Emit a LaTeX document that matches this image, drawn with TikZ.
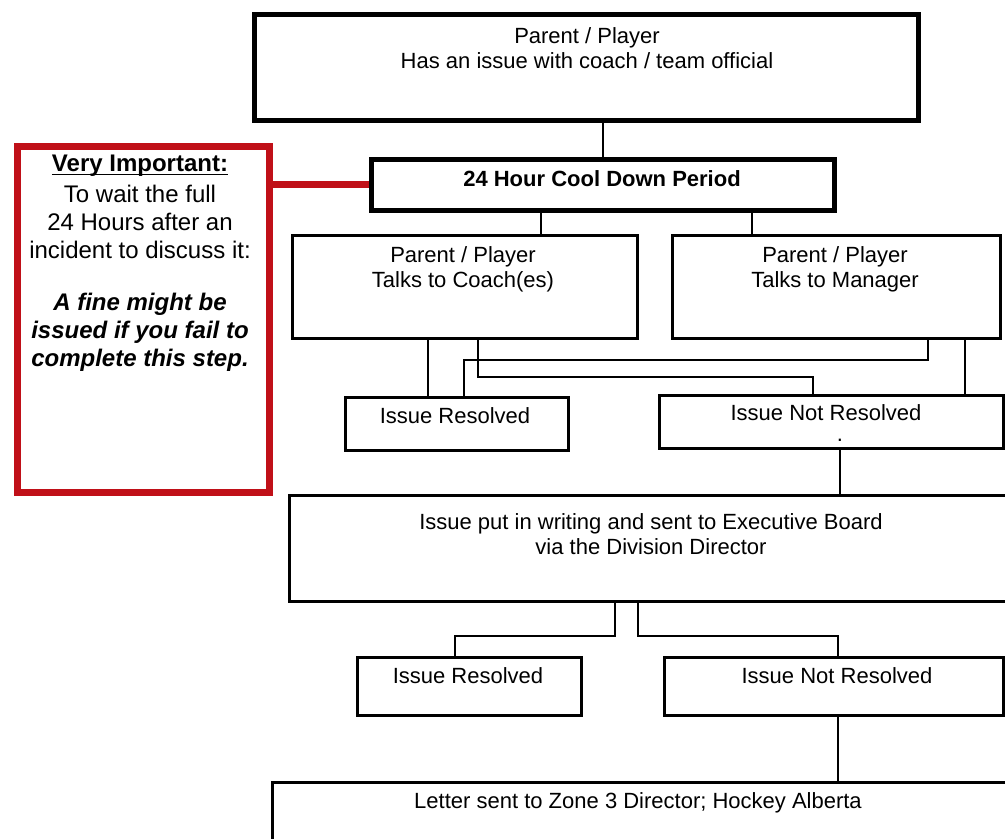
\documentclass[tikz,border=0pt]{standalone}
\usepackage{fontspec}
\setmainfont{Liberation Sans}
\definecolor{boxred}{RGB}{192,16,24}
\tikzset{
	heavybox/.style={draw, line width=2.5pt, inner sep=0pt, anchor=north west},
	flowbox/.style={draw, line width=1.6pt, inner sep=0pt, anchor=north west},
	notebox/.style={draw=boxred, fill=white, line width=3.5pt, inner sep=0pt, anchor=north west},
	txt/.style={font=\fontsize{11}{12.5}\selectfont, align=center, inner sep=0pt},
	link/.style={line width=1.2pt},
	redlink/.style={draw=boxred, line width=3.5pt}
}
\begin{document}
\begin{tikzpicture}[x=0.5pt,y=-0.5pt]
		%\draw [help lines] (0,0) grid (1005,839);
		\def\px{0.5pt}
		\useasboundingbox (0,0) rectangle (1005,839);
		\clip (0,0) rectangle (1005,839);
		% boxes
			\node [heavybox, minimum width=664*\px, minimum height=106*\px] (issue) at (252,12) {};
			\node [heavybox, minimum width=463*\px, minimum height=51*\px] (cool) at (369,157) {};
			\node [notebox, minimum width=252*\px, minimum height=346*\px] (note) at (14,143) {};
			\node [flowbox, minimum width=345*\px, minimum height=103*\px] (coach) at (291,234) {};
			\node [flowbox, minimum width=328*\px, minimum height=103*\px] (manager) at (671,234) {};
			\node [flowbox, minimum width=223*\px, minimum height=53*\px] (res1) at (344,396) {};
			\node [flowbox, minimum width=344*\px, minimum height=53*\px] (notres1) at (658,394) {};
			\node [flowbox, minimum width=730*\px, minimum height=106*\px] (writing) at (288,494) {};
			\node [flowbox, minimum width=224*\px, minimum height=58*\px] (res2) at (356,656) {};
			\node [flowbox, minimum width=339*\px, minimum height=58*\px] (notres2) at (663,656) {};
			\node [flowbox, minimum width=750*\px, minimum height=80*\px] (letter) at (271,781) {};
		% texts
			\node [txt] (issue-txt) at (587,48) {Parent / Player\\Has an issue with coach / team official};
			\node [txt, font=\fontsize{11}{12.5}\selectfont\bfseries] (cool-txt) at (602,179) {24 Hour Cool Down Period};
			\node [txt] (coach-txt) at (463,269) {Parent / Player\\Talks to Coach(es)};
			\node [txt] (manager-txt) at (835,269) {Parent / Player\\Talks to Manager};
			\node [txt] (res1-txt) at (455,416) {Issue Resolved};
			\node [txt] (notres1-txt) at (826,413) {Issue Not Resolved};
			\node [txt, text height=1pt, text depth=0pt] (notres1-dot) at (840,440) {.};
			\node [txt] (writing-txt) at (651,534) {Issue put in writing and sent to Executive Board\\via the Division Director};
			\node [txt] (res2-txt) at (468,676) {Issue Resolved};
			\node [txt] (notres2-txt) at (837,676) {Issue Not Resolved};
			\node [txt] (letter-txt) at (638,803) {Letter sent to Zone 3 Director; Hockey Alberta};
			\node [txt, font=\fontsize{12}{14}\selectfont, anchor=north] (note-txt) at (140,171)
				{\textbf{\underline{\smash{Very Important:}}}\\[1.5pt]
				To wait the full\\24 Hours after an\\incident to discuss it:\\[12pt]
				\textbf{\textit{A fine might be}}\\\textbf{\textit{issued if you fail to}}\\\textbf{\textit{complete this step.}}};
		% red link
			\draw [redlink] (note.east |- cool.west) -- (cool.west);
		% links
			\draw [link] (issue.south -| cool.north) -- (cool.north);
			\draw [link] (cool.south -| 541,0) -- (coach.north -| 541,0);
			\draw [link] (cool.south -| 752,0) -- (manager.north -| 752,0);
			\draw [link] (coach.south -| 428,0) -- (res1.north -| 428,0);
			\draw [link] (coach.south -| 478,0) -- (478,377) -- (813,377) -- (notres1.north -| 813,0);
			\draw [link] (manager.south -| 928,0) -- (928,360) -- (464,360) -- (res1.north -| 464,0);
			\draw [link] (manager.south -| 965,0) -- (notres1.north -| 965,0);
			\draw [link] (notres1.south -| 840,0) -- (writing.north -| 840,0);
			\draw [link] (writing.south -| 615,0) -- (615,636) -- (455,636) -- (res2.north -| 455,0);
			\draw [link] (writing.south -| 638,0) -- (638,636) -- (838,636) -- (notres2.north -| 838,0);
			\draw [link] (notres2.south -| 838,0) -- (letter.north -| 838,0);
	\end{tikzpicture}
\end{document}
